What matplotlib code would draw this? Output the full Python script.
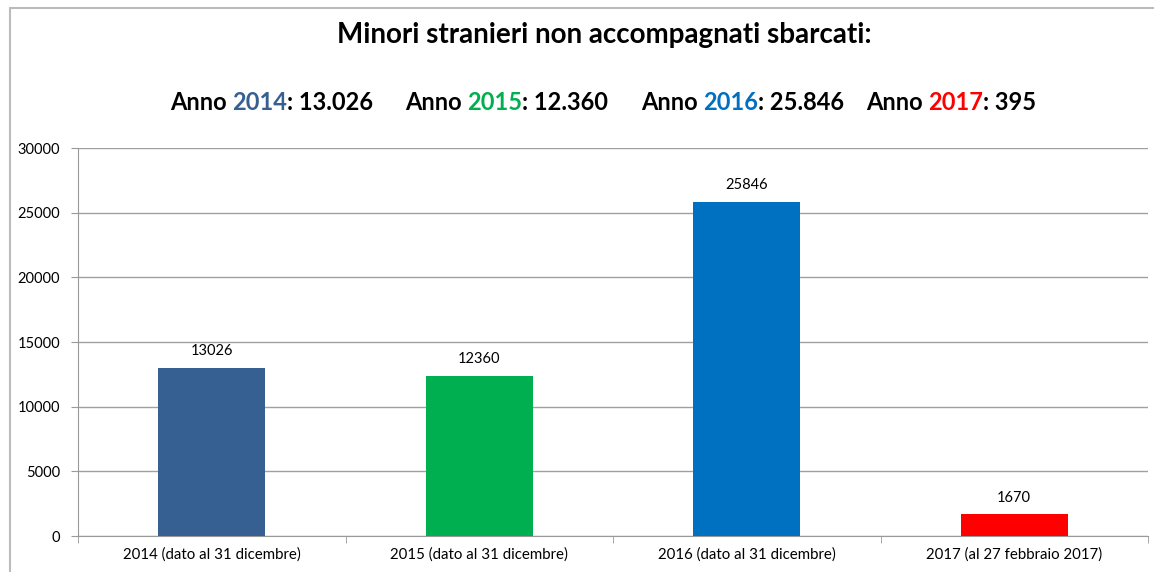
import matplotlib.pyplot as plt
from matplotlib.patches import Rectangle

categories = ["2014 (dato al 31 dicembre)", "2015 (dato al 31 dicembre)",
              "2016 (dato al 31 dicembre)", "2017 (al 27 febbraio 2017)"]
values = [13026, 12360, 25846, 1670]
colors = ["#376092", "#00B050", "#0070C0", "#FF0000"]

header_years = ["2014", "2015", "2016", "2017"]
header_totals = ["13.026", "12.360", "25.846", "395"]

plt.rcParams["font.family"] = ["Lato", "DejaVu Sans"]

fig = plt.figure(figsize=(11.54, 5.72), dpi=100)
ax = fig.add_axes([78 / 1154, 1 - 536 / 572, (1148 - 78) / 1154, (536 - 148) / 572])

x = range(len(categories))
bars = ax.bar(x, values, width=0.4, color=colors, zorder=3)
for b, v in zip(bars, values):
    ax.annotate(str(v), (b.get_x() + b.get_width() / 2, v), xytext=(0, 7),
                textcoords="offset points", ha="center", va="bottom", fontsize=10.5)

ax.set_xlim(-0.5, len(categories) - 0.5)
ax.set_ylim(0, 30000)
ax.set_yticks(range(0, 30001, 5000))
ax.set_xticks(list(x))
ax.set_xticklabels(categories, fontsize=10.8)
ax.set_xticks([i + 0.5 for i in range(-1, len(categories))], minor=True)
ax.tick_params(axis="x", which="major", length=0, pad=8)
ax.tick_params(axis="x", which="minor", length=5, color="#999999")
ax.tick_params(axis="y", length=5, color="#999999", labelsize=10.5, pad=8)
ax.yaxis.grid(True, color="#a0a0a0", linewidth=1, zorder=0)
for s in ["top", "right"]:
    ax.spines[s].set_visible(False)
for s in ["left", "bottom"]:
    ax.spines[s].set_color("#999999")

# outer frame
fig.patches.append(Rectangle((10 / 1154, -0.1), 1.2, 1 - 8 / 572 + 0.1, transform=fig.transFigure,
                             fill=False, edgecolor="#bbbbbb", linewidth=1.5))

fig.text(604 / 1154, 1 - 35 / 572, "Minori stranieri non accompagnati sbarcati:",
         ha="center", va="center", fontsize=20, fontweight="bold")

# multi-coloured header line
fig.canvas.draw()
r = fig.canvas.get_renderer()
starts = [170, 405, 641, 866]
y_h = 1 - 103 / 572
for i in range(len(header_years)):
    xpos = starts[i]
    for txt, col in [("Anno ", "black"), (header_years[i], colors[i]), (": " + header_totals[i], "black")]:
        t = fig.text(xpos / 1154, y_h, txt, ha="left", va="center", fontsize=17,
                     fontweight="bold", color=col)
        xpos += t.get_window_extent(r).width

fig.savefig("out.png", dpi=100)
